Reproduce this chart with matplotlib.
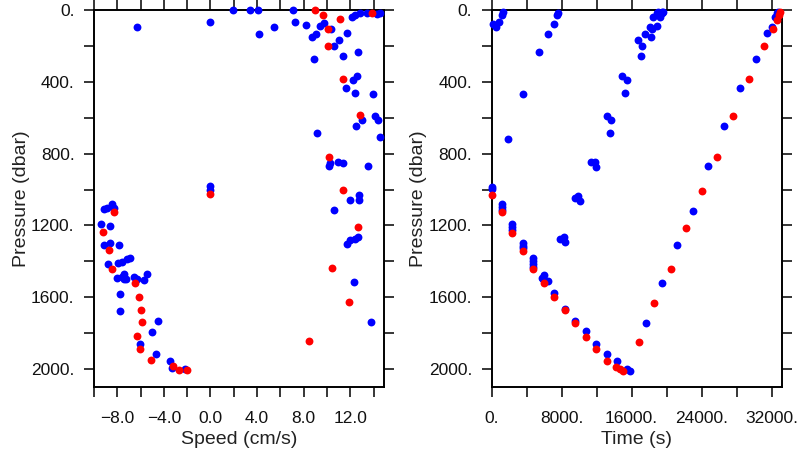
import matplotlib
matplotlib.use('Agg')
import matplotlib.pyplot as plt

plt.rcParams['font.family'] = ['Liberation Sans', 'DejaVu Sans']

# left panel: speed (cm/s) vs pressure (dbar)
speed_blue = [7.1, 7.28, 8.22, 9.37, 9.71, 10.34, 11.72, 12.15, 12.43, 12.86, 13.4, 14.3, 14.57,
              8.71, 9.08, 10.57, 11.0, 12.71, 11.34, 8.91, 12.28, 12.57, 11.63, 12.42, 13.95,
              12.97, 12.52, 14.15, 14.35, 9.14, 14.57,
              1.9, 3.42, 4.08, 4.21, 5.42, -6.31, 0.0,
              10.14, 10.28, 10.91, 11.37, 13.49, 12.0, 12.77, 12.77, 10.57, 11.72, 12.0, 12.43,
              12.71, 12.34, 13.8,
              0.0, 0.0,
              -9.18, -8.88, -8.45, -8.32, -9.37, -8.6, -9.18, -8.6, -7.89, -8.83, -7.97, -7.6,
              -7.17, -6.94,
              -8.03, -7.6, -7.46, -7.23, -6.6, -6.31, -5.74, -5.45, -7.46,
              -7.8, -7.8, -4.54, -5.0, -6.03, -4.65, -3.45, -3.3, -2.16]
pres_sb = [0, 65, 84, 89, 74, 108, 126, 37, 28, 18, 15, 22, 15,
           152, 135, 200, 167, 235, 256, 272, 392, 367, 432, 463, 467,
           611, 644, 593, 611, 687, 709,
           0, 0, 0, 135, 93, 93, 68,
           871, 852, 846, 852, 867, 1056, 1032, 1056, 1114, 1303, 1281, 1276,
           1266, 1515, 1737,
           982, 1000,
           1107, 1102, 1083, 1102, 1190, 1203, 1311, 1297, 1311, 1417, 1411, 1402,
           1388, 1380,
           1491, 1486, 1473, 1501, 1486, 1497, 1505, 1473, 1501,
           1582, 1677, 1731, 1792, 1861, 1918, 1955, 1996, 2002]

speed_red = [9.0, 9.66, 10.05, 11.14, 10.09, 13.86, 11.34, 12.86, 10.14, 11.37, 12.71, 10.43,
             11.91, 8.5, 0.0,
             -8.32, -9.26, -8.69, -8.45, -6.51, -6.17, -5.97, -5.88, -6.31, -6.03, -5.11,
             -3.22, -2.74, -2.02]
pres_sr = [0, 28, 108, 52, 200, 15, 383, 587, 818, 1004, 1209, 1438,
           1629, 1842, 1024,
           1126, 1235, 1339, 1441, 1523, 1597, 1671, 1740, 1816, 1890, 1950,
           1983, 2006, 2006]

# right panel: time (s) vs pressure (dbar)
time_blue = [190, 490, 870, 1140, 1330, 5410, 3610, 1830, 6470, 7120, 7430, 7610,
             0, 0, 9520, 9900, 10090, 11310, 11810, 11890,
             13140, 13630, 13520, 14930, 15430, 15240, 16760, 17210, 17070, 17520, 18210,
             18100, 18290, 18860, 18470, 18860, 19240, 19430, 19040, 19430, 19610,
             24760, 26590, 28380, 30170, 31430, 32000, 32380, 32570, 32760,
             1140, 1140, 1140, 2360, 2360, 2360, 3540, 3540, 3540, 4750, 4750, 4750, 4750,
             5710, 5980, 6470, 5900, 7150, 8340, 9520, 10740, 11920, 13140, 14290, 15430,
             15810,
             7810, 8270, 8380,
             17600, 19430, 21220, 22970]
pres_tb = [78, 93, 65, 28, 9, 236, 468, 719, 135, 78, 28, 15,
           984, 999, 1049, 1036, 1062, 848, 848, 873,
           590, 613, 687, 366, 390, 461, 167, 199, 256, 135, 152,
           93, 108, 87, 37, 18, 37, 18, 9, 9, 9,
           869, 645, 433, 273, 126, 93, 37, 18, 9,
           1083, 1099, 1114, 1194, 1211, 1226, 1300, 1315, 1328, 1380, 1398, 1415, 1430,
           1495, 1476, 1508, 1500, 1578, 1667, 1731, 1788, 1861, 1916, 1955, 2002,
           2009,
           1277, 1266, 1291,
           1745, 1523, 1309, 1118]

time_red = [24000, 25790, 27620, 29410, 31160, 32120, 32570, 32870, 32950,
            0, 1140, 2360, 3540, 4750, 5980, 7150, 8340, 9520, 10740, 11920, 13140,
            14170, 14660, 15050,
            16840, 18550, 20460, 22210]
pres_tr = [1006, 821, 589, 384, 200, 108, 56, 28, 9,
           1031, 1127, 1241, 1343, 1445, 1523, 1600, 1671, 1742, 1820, 1890, 1954,
           1987, 2000, 2009,
           1851, 1634, 1445, 1213]

p_ticks = [0, 400, 800, 1200, 1600, 2000]
p_labels = ['0.', '400.', '800.', '1200.', '1600.', '2000.']
s_ticks = [-8, -4, 0, 4, 8, 12]
s_labels = ['\u22128.0', '\u22124.0', '0.0', '4.0', '8.0', '12.0']
t_ticks = [0, 8000, 16000, 24000, 32000]
t_labels = ['0.', '8000.', '16000.', '24000.', '32000.']

fig = plt.figure(figsize=(8, 4.5), dpi=100)
ax1 = fig.add_axes([0.1175, 0.14, 0.3625, 0.8378])
ax2 = fig.add_axes([0.6146, 0.14, 0.3625, 0.8378])

ms = 32
ax1.scatter(speed_blue, pres_sb, s=ms, c='#0000ff', linewidths=0, zorder=3, clip_on=False)
ax1.scatter(speed_red, pres_sr, s=ms, c='#ff0000', linewidths=0, zorder=4, clip_on=False)
ax2.scatter(time_blue, pres_tb, s=ms, c='#0000ff', linewidths=0, zorder=3, clip_on=False)
ax2.scatter(time_red, pres_tr, s=ms, c='#ff0000', linewidths=0, zorder=4, clip_on=False)

ax1.set_xlim(-10, 14.9)
ax2.set_xlim(0, 33150)

for ax in (ax1, ax2):
    ax.set_ylim(2100, 0)
    ax.set_yticks(p_ticks)
    ax.set_yticklabels(p_labels)
    ax.set_yticks(range(200, 2100, 400), minor=True)
    ax.set_ylabel('Pressure (dbar)', fontsize=14, color='#222222', labelpad=1)
    for sp in ax.spines.values():
        sp.set_linewidth(1.4)
    ax.tick_params(which='both', direction='out', length=7, width=1.1,
                   top=True, right=True, labelsize=12.5, labelcolor='#111111')
    ax.tick_params(axis='y', pad=7)
    ax.tick_params(axis='x', pad=10)

ax1.set_xticks(s_ticks)
ax1.set_xticklabels(s_labels)
ax1.set_xticks([-10, -6, -2, 2, 6, 10, 14], minor=True)
ax1.set_xlabel('Speed (cm/s)', fontsize=14, color='#222222', labelpad=4)

ax2.set_xticks(t_ticks)
ax2.set_xticklabels(t_labels)
ax2.set_xticks([4000, 12000, 20000, 28000], minor=True)
ax2.set_xlabel('Time (s)', fontsize=14, color='#222222', labelpad=4)

fig.savefig('out.png', dpi=100)
